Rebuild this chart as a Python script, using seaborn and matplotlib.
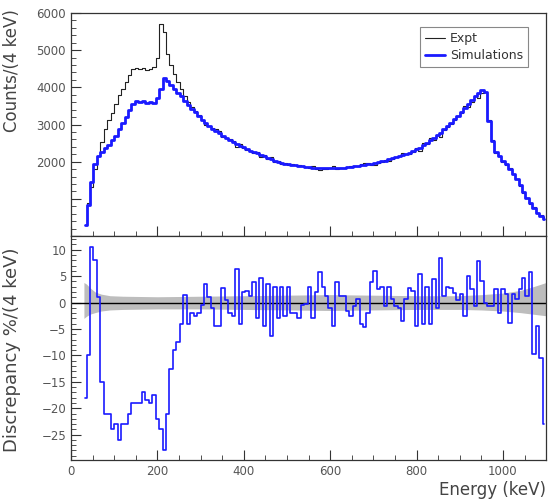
import numpy as np
import pandas as pd
import matplotlib
matplotlib.use('Agg')
import matplotlib.pyplot as plt
from matplotlib.ticker import MultipleLocator, FixedLocator
import seaborn as sns

# Bin centres (8 keV bins) for the spectra and discrepancy
energy = np.arange(32, 1100, 8)

# Simulated spectrum, counts per bin
sim_counts = [300, 830, 1450, 1950, 2150, 2270, 2380, 2460, 2580, 2700,
              2880, 3030, 3200, 3380, 3560, 3620, 3600, 3620, 3590, 3610,
              3570, 3700, 3950, 4250, 4180, 4060, 3960, 3860, 3760, 3640,
              3530, 3430, 3330, 3230, 3120, 3040, 2960, 2890, 2830, 2760,
              2700, 2640, 2580, 2530, 2480, 2430, 2390, 2340, 2300, 2260,
              2220, 2180, 2140, 2100, 2060, 2020, 1990, 1970, 1950, 1930,
              1920, 1900, 1880, 1870, 1860, 1850, 1840, 1830, 1830, 1820,
              1820, 1820, 1830, 1820, 1830, 1840, 1850, 1860, 1880, 1890,
              1910, 1920, 1940, 1950, 1960, 1990, 2010, 2030, 2060, 2090,
              2120, 2150, 2180, 2210, 2240, 2290, 2330, 2370, 2440, 2510,
              2580, 2640, 2710, 2780, 2870, 2960, 3050, 3150, 3240, 3340,
              3450, 3560, 3660, 3760, 3860, 3920, 3880, 3100, 2560, 2260,
              2140, 2020, 1930, 1800, 1680, 1530, 1370, 1190, 1030, 880,
              740, 620, 530, 470]

# Measured spectrum, counts per bin
expt_counts = [300, 900, 1330, 1810, 2140, 2520, 2870, 3110, 3300, 3550,
               3800, 3950, 4150, 4330, 4480, 4530, 4500, 4510, 4470, 4500,
               4540, 4800, 5700, 5500, 4900, 4600, 4350, 4150, 3950, 3760,
               3600, 3460, 3370, 3260, 3130, 2990, 2950, 2900, 2890, 2820,
               2660, 2630, 2610, 2560, 2400, 2480, 2370, 2310, 2290, 2220,
               2250, 2130, 2190, 2060, 2120, 1990, 2020, 1940, 1970, 1900,
               1940, 1920, 1910, 1870, 1860, 1820, 1870, 1810, 1780, 1790,
               1810, 1830, 1870, 1790, 1820, 1830, 1860, 1880, 1890, 1880,
               1950, 1970, 1960, 1910, 1900, 1970, 1980, 2040, 2030, 2080,
               2130, 2160, 2220, 2200, 2210, 2260, 2380, 2300, 2490, 2470,
               2630, 2580, 2720, 2660, 2850, 2920, 3010, 3120, 3230, 3310,
               3490, 3470, 3610, 3770, 3710, 3840, 3880, 3110, 2570, 2230,
               2160, 2000, 1910, 1830, 1670, 1530, 1350, 1160, 1020, 850,
               780, 630, 560, 520]

# Discrepancy (Sim - Expt)/Expt in percent
discrepancy = [-18, -10, 10.5, 8, 1, -15, -21, -21, -24, -23,
               -26, -23, -23, -21, -19, -19, -19, -17, -18.5, -19,
               -17.5, -22, -24, -28, -21, -12.5, -9, -7.5, -4, 1.5,
               -4, -2, -2.5, -2, -0.5, 3.5, 1, -1, -4.5, -4.5,
               2.8, 0.5, -2, -2.5, 6.3, -4, 2, 2.2, 1.3, 3.8,
               -3, 4.7, -4.5, 3.5, -6.3, 3, -3, 3, -2.5, 3,
               -2, -2, -3, -0.5, -0.3, 3, -3, 2, 5.7, 3,
               1.3, -1, -4.5, 3.8, 1.3, 1.3, -1.6, -2.5, -0.6, 0.6,
               -4, -4.7, -2, 3.8, 6, 2.5, 3, -0.6, 3, 0.6,
               -0.6, -1, -3.5, 0.6, 2.8, 2.2, -4.5, 5.5, -4, 3,
               -4, 4.4, -1, 8.5, 1.3, 3, 2.8, 1.9, 0.5, 1.6,
               -2.5, 5, 2.5, -0.6, 7.9, 4, 0, -0.6, -0.6, 2.5,
               -2, 2.5, 1.6, -3.8, 1.6, 0.6, 2.5, 4.7, 1.3, 5.7,
               -9.8, -4.4, -10.5, -23]

# Uncertainty band of the discrepancy
band_energy = [30, 36, 44, 56, 70, 90, 120, 200, 300, 400, 500, 600, 700,
               800, 900, 950, 1000, 1040, 1070, 1100]
band_hi = [3.8, 3.5, 2.8, 2.0, 1.6, 1.3, 1.2, 1.1, 1.2, 1.3, 1.4, 1.5, 1.4,
           1.3, 1.3, 1.5, 1.8, 2.3, 3.0, 3.8]
band_lo = [-3.0, -2.6, -2.2, -1.9, -1.6, -1.4, -1.3, -1.2, -1.2, -1.3, -1.4,
           -1.5, -1.4, -1.3, -1.3, -1.4, -1.6, -1.9, -2.2, -2.5]

sns.set_style('white')
plt.rcParams['font.family'] = ['DejaVu Sans']

spec = pd.DataFrame({'energy': energy, 'Expt': expt_counts, 'Simulations': sim_counts})
disc = pd.DataFrame({'energy': energy, 'disc': discrepancy})

fig = plt.figure(figsize=(5.5, 5.0), dpi=100)
ax1 = fig.add_axes([0.129, 0.528, 0.864, 0.446])
ax2 = fig.add_axes([0.129, 0.080, 0.864, 0.448], sharex=ax1)

blue = '#1a1aff'
label_col = '#444444'
tick_col = '#555555'

# spectra
sns.lineplot(data=spec, x='energy', y='Expt', ax=ax1, color='#222222', lw=0.8,
             drawstyle='steps-mid', label='Expt')
sns.lineplot(data=spec, x='energy', y='Simulations', ax=ax1, color=blue, lw=2.0,
             drawstyle='steps-mid', label='Simulations')

ax1.set_ylim(0, 6000)
ax1.yaxis.set_major_locator(FixedLocator([0, 1000, 2000, 3000, 4000, 5000, 6000]))
ax1.set_yticklabels(['', '', '2000', '3000', '4000', '5000', '6000'])
ax1.yaxis.set_minor_locator(MultipleLocator(200))
ax1.set_ylabel('Counts/(4 keV)', fontsize=12, color=label_col)
ax1.yaxis.set_label_coords(-0.105, 0.74)
ax1.set_xlabel('')

leg = ax1.legend(loc='upper right', bbox_to_anchor=(0.975, 0.965), fancybox=False,
                 edgecolor='#888888', framealpha=1, fontsize=9, handlelength=1.6,
                 handletextpad=0.4, borderpad=0.4, labelspacing=0.35)
for t in leg.get_texts():
    t.set_color('#333333')
leg.get_frame().set_linewidth(0.8)

# discrepancy
ax2.fill_between(band_energy, band_lo, band_hi, color='#bdbdbd', lw=0, zorder=1)
ax2.axhline(0, color='black', lw=1.0, zorder=2)
sns.lineplot(data=disc, x='energy', y='disc', ax=ax2, color=blue, lw=1.2,
             drawstyle='steps-mid', zorder=3)

ax2.set_xlim(0, 1100)
ax2.set_ylim(-29.8, 12.6)
ax2.xaxis.set_major_locator(MultipleLocator(200))
ax2.xaxis.set_minor_locator(MultipleLocator(50))
ax2.yaxis.set_major_locator(MultipleLocator(5))
ax2.yaxis.set_minor_locator(MultipleLocator(1))
ax2.set_ylabel('Discrepancy %/(4 keV)', fontsize=13, color=label_col)
ax2.yaxis.set_label_coords(-0.105, 0.49)
ax2.set_xlabel('Energy (keV)', fontsize=12, color=label_col, loc='right', labelpad=2)

for ax in (ax1, ax2):
    for s in ax.spines.values():
        s.set_color('#333333')
        s.set_linewidth(0.9)
    ax.tick_params(which='both', direction='in', top=False, right=False,
                   bottom=True, left=True,
                   labelsize=8.5, labelcolor=tick_col, color='#333333')
    ax.tick_params(which='major', length=7, width=0.8)
    ax.tick_params(which='minor', length=3.5, width=0.6)

ax1.tick_params(axis='x', which='both', labelbottom=False)

fig.savefig('out.png', dpi=100)
